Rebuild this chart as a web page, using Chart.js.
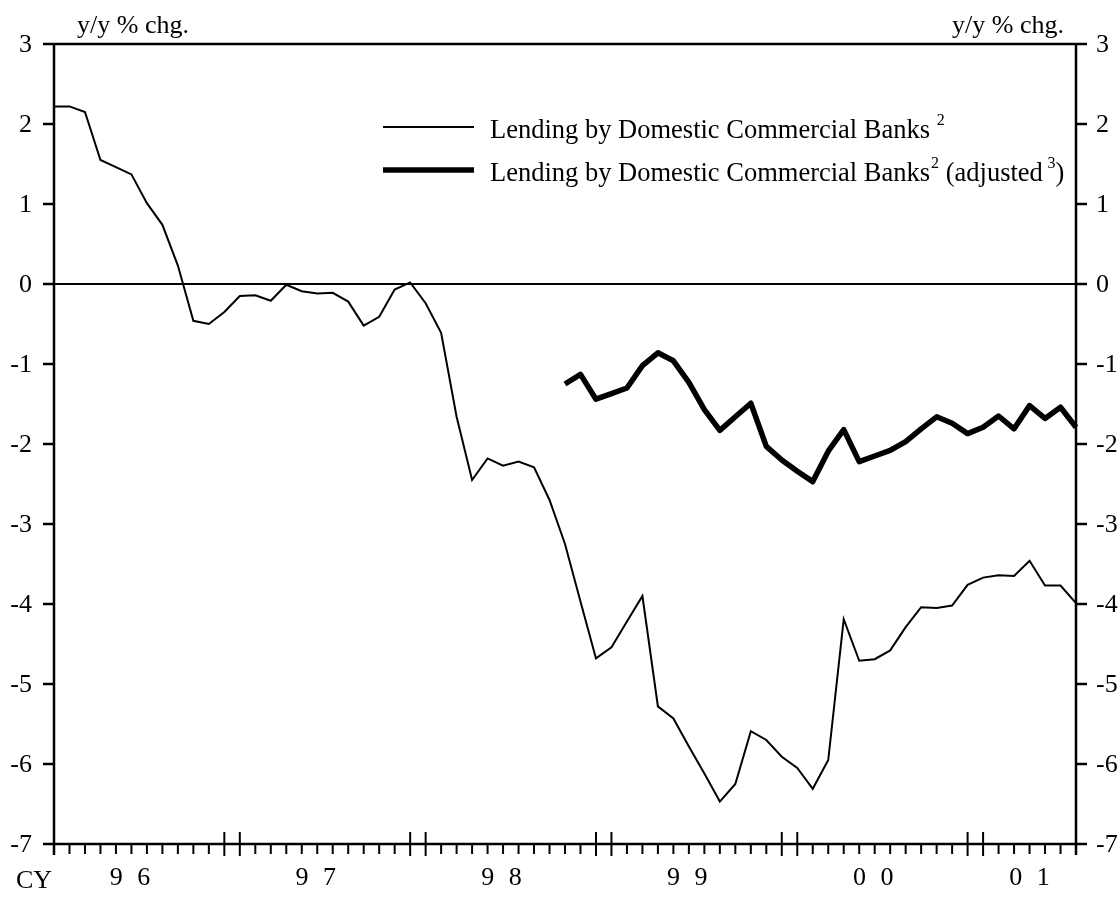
<!DOCTYPE html>
<html>
<head>
<meta charset="utf-8">
<script src="https://cdn.jsdelivr.net/npm/chart.js@4.4.0/dist/chart.umd.min.js"></script>
<style>
  html, body { margin: 0; padding: 0; background: #fff; }
  #wrap { width: 1120px; height: 897px; }
</style>
</head>
<body>
<div id="wrap"><canvas id="lendingChart" width="1120" height="897"></canvas></div>
<script>
// monthly, Jan 96 - Jul 01
const months = [
  "96/01","96/02","96/03","96/04","96/05","96/06","96/07","96/08","96/09","96/10","96/11","96/12",
  "97/01","97/02","97/03","97/04","97/05","97/06","97/07","97/08","97/09","97/10","97/11","97/12",
  "98/01","98/02","98/03","98/04","98/05","98/06","98/07","98/08","98/09","98/10","98/11","98/12",
  "99/01","99/02","99/03","99/04","99/05","99/06","99/07","99/08","99/09","99/10","99/11","99/12",
  "00/01","00/02","00/03","00/04","00/05","00/06","00/07","00/08","00/09","00/10","00/11","00/12",
  "01/01","01/02","01/03","01/04","01/05","01/06","01/07"
];

// Lending by Domestic Commercial Banks (y/y % chg.)
const lending = [
  2.22, 2.22, 2.15, 1.55, 1.46, 1.37, 1.01, 0.74, 0.23, -0.46, -0.50, -0.35,
  -0.15, -0.14, -0.21, -0.01, -0.09, -0.12, -0.11, -0.22, -0.52, -0.41, -0.07, 0.02,
  -0.24, -0.61, -1.66, -2.45, -2.18, -2.27, -2.22, -2.29, -2.70, -3.25, -3.97, -4.68,
  -4.54, -4.22, -3.90, -5.28, -5.43, -5.78, -6.12, -6.47, -6.25, -5.59, -5.70, -5.91,
  -6.05, -6.31, -5.95, -4.19, -4.71, -4.69, -4.58, -4.29, -4.04, -4.05, -4.02, -3.76,
  -3.67, -3.64, -3.65, -3.46, -3.77, -3.77, -3.99
];

// same, adjusted (starts Oct 98)
const adjusted = [
  null, null, null, null, null, null, null, null, null, null, null, null,
  null, null, null, null, null, null, null, null, null, null, null, null,
  null, null, null, null, null, null, null, null, null, -1.25, -1.13, -1.44,
  -1.37, -1.30, -1.02, -0.86, -0.96, -1.23, -1.57, -1.83, -1.66, -1.49, -2.03, -2.20,
  -2.34, -2.47, -2.09, -1.82, -2.22, -2.15, -2.08, -1.97, -1.81, -1.66, -1.74, -1.87,
  -1.79, -1.65, -1.81, -1.52, -1.68, -1.54, -1.79
];

const yTicks = [3, 2, 1, 0, -1, -2, -3, -4, -5, -6, -7];
const yearLabels = ["9 6", "9 7", "9 8", "9 9", "0 0", "0 1"];

const FONT = '"Liberation Serif", "Times New Roman", serif';
const BIG = '26px ' + FONT;
const LEG = '26.5px ' + FONT;

const framePlugin = {
  id: 'frame',
  beforeDatasetsDraw(chart) {
    const { ctx, chartArea: a, scales: { y } } = chart;
    // zero line
    ctx.save();
    ctx.strokeStyle = '#000';
    ctx.lineWidth = 2;
    ctx.beginPath();
    ctx.moveTo(a.left, y.getPixelForValue(0));
    ctx.lineTo(a.right, y.getPixelForValue(0));
    ctx.stroke();
    ctx.restore();
  },
  afterDatasetsDraw(chart) {
    const { ctx, chartArea: a, scales: { x, y } } = chart;
    ctx.save();
    ctx.strokeStyle = '#000';
    ctx.fillStyle = '#000';
    ctx.lineWidth = 2.5;

    // box
    ctx.beginPath();
    ctx.moveTo(a.left, a.top); ctx.lineTo(a.right, a.top);
    ctx.moveTo(a.left, a.bottom); ctx.lineTo(a.right, a.bottom);
    ctx.moveTo(a.left, a.top); ctx.lineTo(a.left, a.bottom + 11);
    ctx.moveTo(a.right, a.top); ctx.lineTo(a.right, a.bottom + 11);
    ctx.stroke();

    // y ticks both sides
    ctx.font = BIG;
    ctx.textBaseline = 'middle';
    yTicks.forEach(v => {
      const py = y.getPixelForValue(v);
      ctx.beginPath();
      ctx.moveTo(a.left - 11, py); ctx.lineTo(a.left, py);
      ctx.moveTo(a.right, py); ctx.lineTo(a.right + 11, py);
      ctx.stroke();
      ctx.textAlign = 'right';
      ctx.fillText(String(v), a.left - 22, py + 1);
      ctx.textAlign = 'left';
      ctx.fillText(String(v), a.right + 20, py + 1);
    });

    // month ticks, doubled at year ends
    ctx.lineWidth = 2;
    months.forEach((m, i) => {
      const px = x.getPixelForValue(i);
      const mm = m.slice(3);
      const yearEdge = (mm === '12' && i < months.length - 1) || (mm === '01' && i > 0);
      ctx.beginPath();
      if (yearEdge) {
        ctx.moveTo(px, a.bottom - 12); ctx.lineTo(px, a.bottom + 12);
      } else {
        ctx.moveTo(px, a.bottom); ctx.lineTo(px, a.bottom + 10);
      }
      ctx.stroke();
    });

    // year labels
    ctx.textAlign = 'center';
    ctx.textBaseline = 'alphabetic';
    const baseY = a.bottom + 41;
    const years = [...new Set(months.map(m => m.slice(0, 2)))];
    ctx.letterSpacing = '4px';
    years.forEach((yy, k) => {
      const first = months.findIndex(m => m.startsWith(yy));
      let last = first;
      while (last + 1 < months.length && months[last + 1].startsWith(yy)) last++;
      const c = (last - first === 11) ? first + 4.9 : (first + last) / 2;
      ctx.fillText(yearLabels[k], x.getPixelForValue(c) + 2, baseY);
    });
    ctx.letterSpacing = '0px';
    ctx.textAlign = 'left';
    ctx.fillText('CY', 16, baseY + 3);

    // unit titles
    ctx.fillText('y/y % chg.', 77, a.top - 11);
    ctx.textAlign = 'right';
    ctx.fillText('y/y % chg.', 1064, a.top - 11);

    // legend
    const sup = (txt, px, py) => {
      ctx.font = '16px ' + FONT;
      ctx.fillText(txt, px, py - 10);
      const w = ctx.measureText(txt).width;
      ctx.font = LEG;
      return w;
    };
    ctx.textAlign = 'left';
    ctx.textBaseline = 'middle';
    ctx.lineWidth = 2;
    ctx.beginPath(); ctx.moveTo(383, 127); ctx.lineTo(474, 127); ctx.stroke();
    ctx.lineWidth = 5.5;
    ctx.beginPath(); ctx.moveTo(383, 170); ctx.lineTo(474, 170); ctx.stroke();

    const name = 'Lending by Domestic Commercial Banks';
    ctx.font = LEG;
    let tx = 490;
    ctx.fillText(name, tx, 131);
    tx += ctx.measureText(name + ' ').width;
    sup('2', tx, 131);

    tx = 490;
    ctx.fillText(name, tx, 174);
    tx += ctx.measureText(name).width + 1;
    tx += sup('2', tx, 174);
    ctx.fillText(' (adjusted ', tx, 174);
    tx += ctx.measureText(' (adjusted ').width - 2;
    tx += sup('3', tx, 174);
    ctx.fillText(')', tx, 174);

    ctx.restore();
  }
};

new Chart(document.getElementById('lendingChart'), {
  type: 'line',
  data: {
    labels: months,
    datasets: [
      {
        label: 'Lending by Domestic Commercial Banks',
        data: lending,
        borderColor: '#000',
        borderWidth: 2,
        pointRadius: 0,
        tension: 0
      },
      {
        label: 'Lending by Domestic Commercial Banks (adjusted)',
        data: adjusted,
        borderColor: '#000',
        borderWidth: 5.5,
        borderJoinStyle: 'round',
        pointRadius: 0,
        tension: 0,
        spanGaps: false
      }
    ]
  },
  options: {
    responsive: false,
    animation: false,
    layout: { padding: { left: 54, right: 44, top: 44, bottom: 53 } },
    plugins: { legend: { display: false }, tooltip: { enabled: false } },
    scales: {
      x: { display: false, offset: false },
      y: { display: false, min: -7, max: 3 }
    }
  },
  plugins: [framePlugin]
});
</script>
</body>
</html>
